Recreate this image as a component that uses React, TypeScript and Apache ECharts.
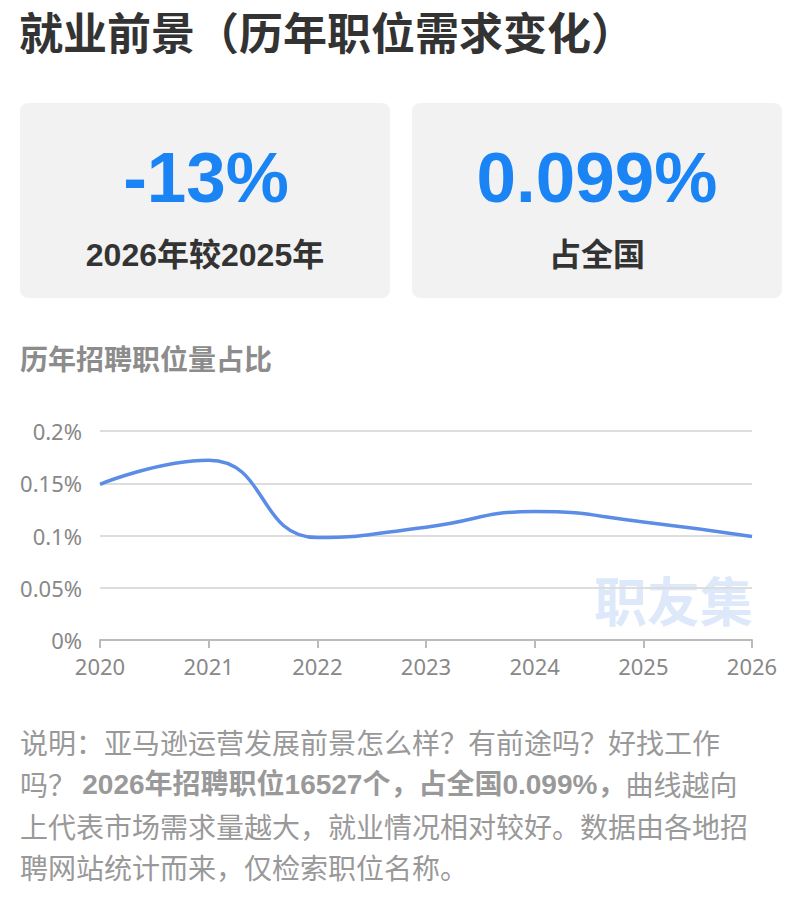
import React, { useEffect, useRef } from "react";
import * as echarts from "echarts";

const years = ["2020", "2021", "2022", "2023", "2024", "2025", "2026"];
const shareValues = [0.149, 0.172, 0.098, 0.108, 0.123, 0.113, 0.099];
const yTicks = [0, 0.05, 0.1, 0.15, 0.2];

const pageTitle = "就业前景（历年职位需求变化）";
const cardLeftValue = "-13%";
const cardLeftLabel = "2026年较2025年";
const cardRightValue = "0.099%";
const cardRightLabel = "占全国";
const chartTitle = "历年招聘职位量占比";
const watermark = "职友集";

const descLine1 = "说明：亚马逊运营发展前景怎么样？有前途吗？好找工作";
const descLine2a = "吗？ ";
const descLine2b = "2026年招聘职位16527个，占全国0.099%，";
const descLine2c = "曲线越向";
const descLine3 = "上代表市场需求量越大，就业情况相对较好。数据由各地招";
const descLine4 = "聘网站统计而来，仅检索职位名称。";

const BOLD_FONT = '"Liberation Sans", Arial, "Noto Sans CJK SC", sans-serif';
const CJK_FONT = '"Noto Sans CJK SC", "Noto Sans", sans-serif';
const AXIS_FONT = '"Noto Sans", "Noto Sans CJK SC", sans-serif';

export default function App() {
  const ref = useRef<HTMLDivElement>(null);

  useEffect(() => {
    document.body.style.margin = "0";
    const chart = echarts.init(ref.current!, null, { renderer: "svg" });
    const descColor = "#999999";
    const option: any = {
      animation: false,
      backgroundColor: "#ffffff",
      grid: { left: 100, right: 48, top: 431, height: 209 },
      xAxis: {
        type: "category",
        data: years,
        boundaryGap: false,
        axisLine: { lineStyle: { color: "#bbbbbb", width: 2 } },
        axisTick: { show: true, length: 8, lineStyle: { color: "#bbbbbb", width: 2 } },
        axisLabel: { color: "#888888", fontSize: 22, margin: 15, fontFamily: AXIS_FONT },
      },
      yAxis: {
        type: "value",
        min: yTicks[0],
        max: yTicks[yTicks.length - 1],
        interval: 0.05,
        axisLine: { show: false },
        axisTick: { show: false },
        axisLabel: {
          color: "#888888",
          fontSize: 22,
          margin: 18,
          fontFamily: AXIS_FONT,
          formatter: (v: number) => parseFloat(v.toFixed(3)) + "%",
        },
        splitLine: { lineStyle: { color: "#dddddd", width: 2 } },
      },
      series: [
        {
          type: "line",
          data: shareValues,
          smooth: 0.5,
          symbol: "none",
          lineStyle: { color: "#5b8de6", width: 3.5 },
          z: 5,
        },
      ],
      graphic: [
        {
          type: "text",
          x: 19,
          y: 31,
          style: {
            text: pageTitle,
            font: `bold 44px ${CJK_FONT}`,
            fill: "#333333",
            textVerticalAlign: "middle",
          },
        },
        {
          type: "rect",
          shape: { x: 20, y: 103, width: 370, height: 195, r: 8 },
          style: { fill: "#f2f2f2" },
          z: -10,
        },
        {
          type: "rect",
          shape: { x: 412, y: 103, width: 370, height: 195, r: 8 },
          style: { fill: "#f2f2f2" },
          z: -10,
        },
        {
          type: "text",
          x: 206,
          y: 177,
          style: {
            text: cardLeftValue,
            font: `bold 71px ${BOLD_FONT}`,
            fill: "#1a84f4",
            textAlign: "center",
            textVerticalAlign: "middle",
          },
        },
        {
          type: "text",
          x: 205,
          y: 255,
          style: {
            text: cardLeftLabel,
            font: `bold 32px ${BOLD_FONT}`,
            fill: "#333333",
            textAlign: "center",
            textVerticalAlign: "middle",
          },
        },
        {
          type: "text",
          x: 597,
          y: 177,
          style: {
            text: cardRightValue,
            font: `bold 71px ${BOLD_FONT}`,
            fill: "#1a84f4",
            textAlign: "center",
            textVerticalAlign: "middle",
          },
        },
        {
          type: "text",
          x: 597,
          y: 255,
          style: {
            text: cardRightLabel,
            font: `bold 32px ${BOLD_FONT}`,
            fill: "#333333",
            textAlign: "center",
            textVerticalAlign: "middle",
          },
        },
        {
          type: "text",
          x: 20,
          y: 358,
          style: {
            text: chartTitle,
            font: `bold 28px ${CJK_FONT}`,
            fill: "#8c8c8c",
            textVerticalAlign: "middle",
          },
        },
        {
          type: "text",
          x: 753,
          y: 599,
          z: -5,
          style: {
            text: watermark,
            font: `bold 53px ${CJK_FONT}`,
            fill: "#dde9fa",
            textAlign: "right",
            textVerticalAlign: "middle",
          },
        },
        {
          type: "text",
          x: 20,
          y: 742,
          style: {
            text: descLine1,
            font: `28px ${CJK_FONT}`,
            fill: descColor,
            textVerticalAlign: "middle",
          },
        },
        {
          type: "text",
          x: 20,
          y: 784,
          style: {
            text: `{r|${descLine2a}}{b|${descLine2b}}{r|${descLine2c}}`,
            textVerticalAlign: "middle",
            fill: descColor,
            rich: {
              r: { fontSize: 28, fontFamily: CJK_FONT, fill: descColor },
              b: { fontSize: 28, fontFamily: BOLD_FONT, fontWeight: "bold", fill: "#999999" },
            },
          },
        },
        {
          type: "text",
          x: 20,
          y: 826,
          style: {
            text: descLine3,
            font: `28px ${CJK_FONT}`,
            fill: descColor,
            textVerticalAlign: "middle",
          },
        },
        {
          type: "text",
          x: 20,
          y: 867,
          style: {
            text: descLine4,
            font: `28px ${CJK_FONT}`,
            fill: descColor,
            textVerticalAlign: "middle",
          },
        },
      ],
    };
    chart.setOption(option);
    return () => chart.dispose();
  }, []);

  return (
    <div
      ref={ref}
      style={{ position: "absolute", left: 0, top: 0, width: 800, height: 904 }}
    />
  );
}
